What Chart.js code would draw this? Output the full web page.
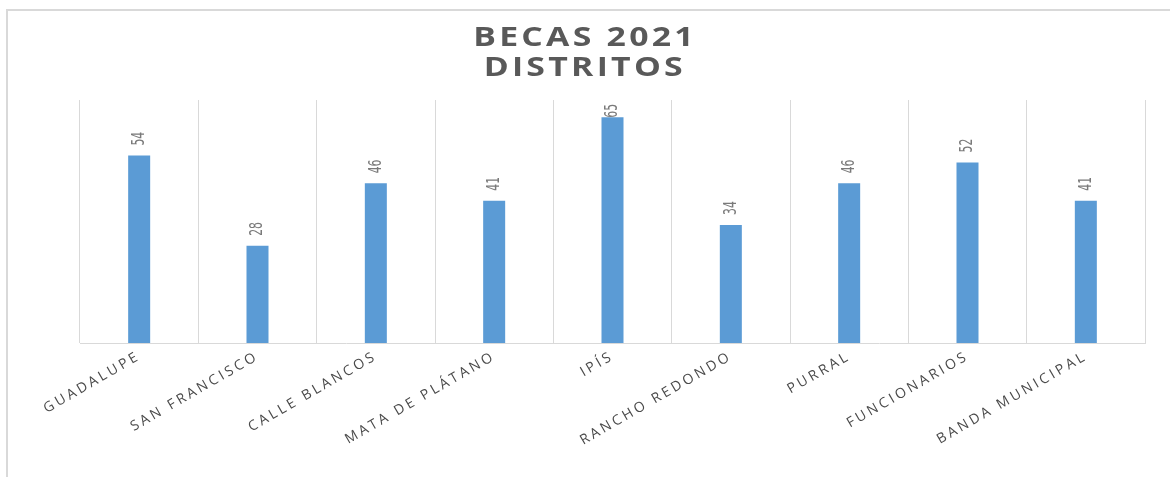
<!DOCTYPE html>
<html>
<head>
<meta charset="utf-8">
<script src="https://cdn.jsdelivr.net/npm/chart.js"></script>
<style>
  html, body { margin: 0; padding: 0; background: #fff; overflow: hidden; }
  #wrap { position: relative; width: 1170px; height: 477px; }
  #frame { position: absolute; left: 6px; top: 9px; width: 1200px; height: 500px; border: 2px solid #d9d9d9; box-sizing: border-box; }
  #title { position: absolute; top: 21px; left: 0; width: 1170px; text-align: center; font: bold 26px "Open Sans", sans-serif; line-height: 30px; color: #595959; }
  #title span { display: inline-block; transform: scaleX(1.3); letter-spacing: 2.5px; }
  canvas { position: absolute; left: 0; top: 0; }
</style>
</head>
<body>
<div id="wrap">
  <div id="frame"></div>
  <canvas id="chartCanvas" width="1170" height="477"></canvas>
  <div id="title"><span>BECAS 2021</span><br><span>DISTRITOS</span></div>
</div>
<script>
// categories and values
const districts = ['GUADALUPE', 'SAN FRANCISCO', 'CALLE BLANCOS', 'MATA DE PLÁTANO', 'IPÍS',
                   'RANCHO REDONDO', 'PURRAL', 'FUNCIONARIOS', 'BANDA MUNICIPAL'];
const becas = [54, 28, 46, 41, 65, 34, 46, 52, 41];
const yMax = 70;

// wide letter spacing for the axis labels
const spacingPlugin = {
  id: 'spacing',
  beforeLayout(chart) { chart.ctx.letterSpacing = '3px'; },
  beforeDraw(chart) { chart.ctx.letterSpacing = '3px'; }
};

// vertical value labels above each bar
const valueLabels = {
  id: 'valueLabels',
  afterDatasetsDraw(chart) {
    const ctx = chart.ctx;
    const area = chart.chartArea;
    const meta = chart.getDatasetMeta(0);
    ctx.save();
    ctx.letterSpacing = '0px';
    ctx.font = '12px "Liberation Sans Narrow", "DejaVu Sans Condensed", sans-serif';
    ctx.fillStyle = '#7a7a7a';
    ctx.textAlign = 'left';
    ctx.textBaseline = 'middle';
    meta.data.forEach((bar, i) => {
      const txt = String(becas[i]);
      const len = ctx.measureText(txt).width;
      let start = bar.y - 10;
      if (start - len < area.top + 4) start = area.top + 4 + len;
      ctx.save();
      ctx.translate(bar.x, start);
      ctx.rotate(-Math.PI / 2);
      ctx.scale(1, 1.5);
      ctx.fillText(txt, 0, 0);
      ctx.restore();
    });
    ctx.restore();
  }
};

const ctx = document.getElementById('chartCanvas').getContext('2d');
new Chart(ctx, {
  type: 'bar',
  data: {
    labels: districts,
    datasets: [{
      label: 'Becas',
      data: becas,
      backgroundColor: '#5b9bd5',
      categoryPercentage: 1,
      barPercentage: 0.186
    }]
  },
  options: {
    responsive: false,
    animation: false,
    layout: { padding: { left: 80, right: 25, top: 100, bottom: 0 } },
    plugins: {
      legend: { display: false },
      title: { display: false },
      tooltip: { enabled: false }
    },
    scales: {
      x: {
        grid: { display: true, color: '#d9d9d9', lineWidth: 1, drawTicks: false, offset: true },
        border: { display: true, color: '#d9d9d9', width: 1 },
        ticks: {
          autoSkip: false,
          minRotation: 30,
          maxRotation: 30,
          padding: 5,
          color: '#4a4a4a',
          font: { family: '"Open Sans", sans-serif', size: 14 }
        },
        afterFit(scale) {
          scale.height = 134;
          scale.paddingLeft = 0;
          scale.paddingRight = 0;
        }
      },
      y: {
        display: false,
        min: 0,
        max: yMax
      }
    }
  },
  plugins: [spacingPlugin, valueLabels]
});
</script>
</body>
</html>
